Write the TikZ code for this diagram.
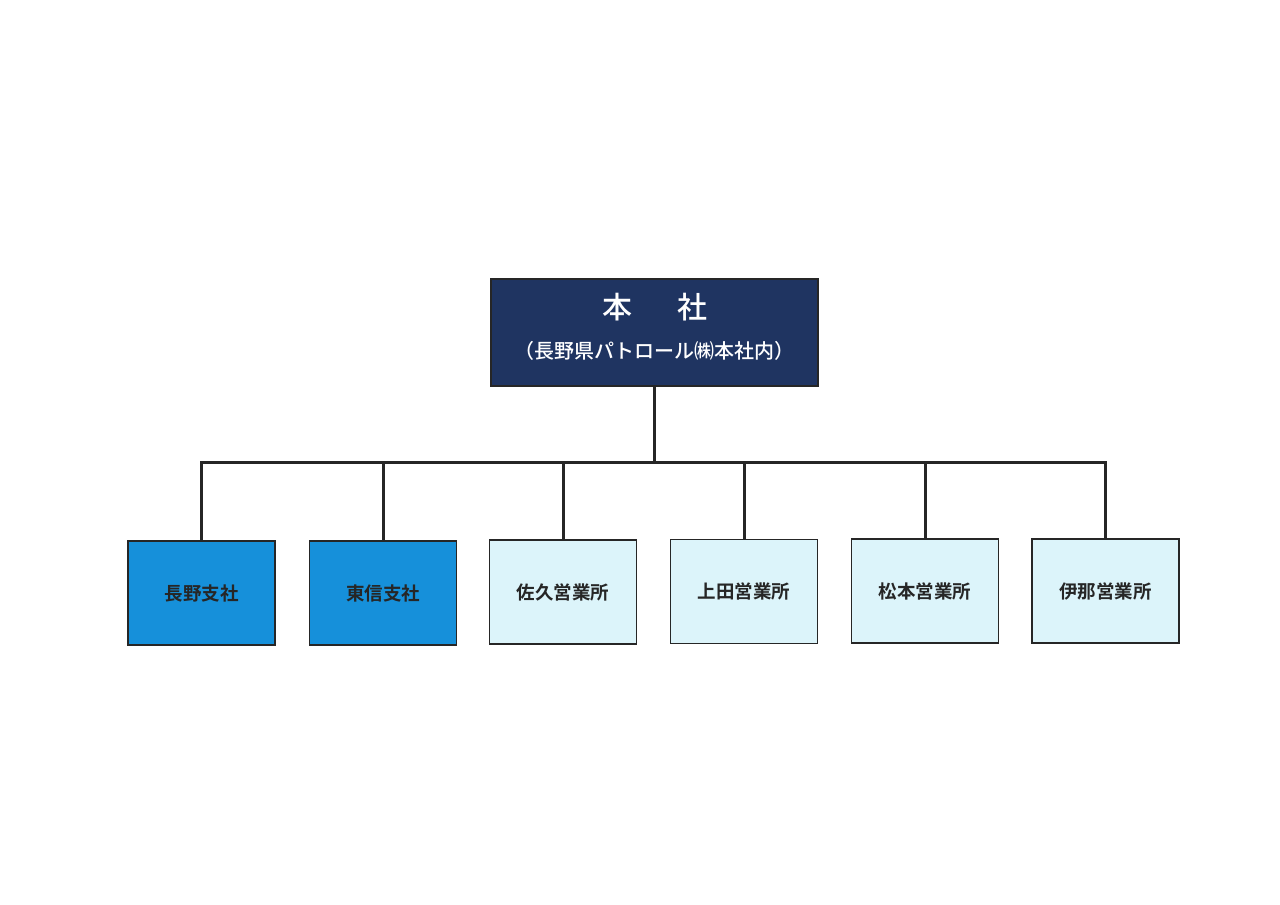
\documentclass[tikz,border=0pt]{standalone}
\usepackage{fontspec}
\newfontfamily\cjk{Noto Sans CJK JP}[BoldFont={Noto Sans CJK JP Bold}]
\newfontfamily\cjkmed{Noto Sans CJK JP Medium}
\definecolor{navy}{HTML}{1F3461}
\definecolor{branch}{HTML}{1690DA}
\definecolor{office}{HTML}{DCF4FA}
\definecolor{ink}{HTML}{262626}
\tikzset{
  conn/.style={line width=3pt, draw=ink},
  unit/.style={draw=ink, line width=1.8pt, minimum width=147pt, minimum height=104pt, inner sep=0pt, font=\cjk\bfseries\fontsize{18.5}{21}\selectfont, text=ink},
  branchbox/.style={unit, fill=branch},
  officebox/.style={unit, fill=office},
}
\begin{document}
\begin{tikzpicture}[x=1pt,y=-1pt]
\useasboundingbox[fill=white] (0,0) rectangle (1280,905);
\node[draw=ink, line width=1.5pt, fill=navy, minimum width=327pt, minimum height=107pt, inner sep=0pt] (hq) at (654.5,332.5) {};
\node[text=white, font=\cjkmed\fontsize{30}{33}\selectfont] (hqt) at (654.5,307) {本\hspace{1.5em}社};
\node[text=white, font=\cjkmed\fontsize{20}{23}\selectfont] (hqs) at (654.5,351) {（長野県パトロール㈱本社内）};
\node[branchbox] (b1) at (201.5,593) {長野支社};
\node[branchbox] (b2) at (383,593) {東信支社};
\node[officebox] (b3) at (563,592) {佐久営業所};
\node[officebox] (b4) at (744,591.5) {上田営業所};
\node[officebox] (b5) at (925,591) {松本営業所};
\node[officebox] (b6) at (1105.5,591) {伊那営業所};
\coordinate (bus) at (654.5,462);
\draw[conn] (hq.south) -- (bus);
\draw[conn, line cap=rect] (b1.north) |- (bus);
\draw[conn, line cap=rect] (b6.north) |- (bus);
\foreach \b in {b2,b3,b4,b5} { \draw[conn] (\b.north) -- (\b.north |- bus); }
\end{tikzpicture}
\end{document}
